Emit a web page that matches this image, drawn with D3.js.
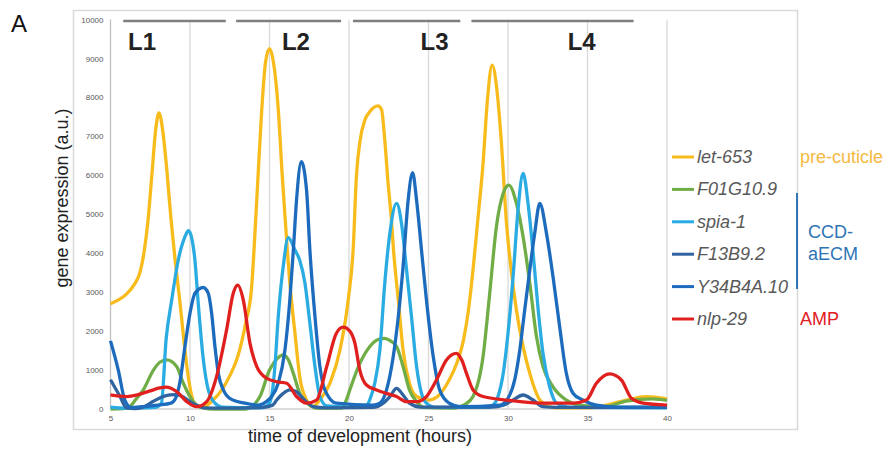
<!DOCTYPE html>
<html>
<head>
<meta charset="utf-8"/>
<script src="https://cdnjs.cloudflare.com/ajax/libs/d3/7.8.5/d3.min.js"></script>
<style>
  body { margin: 0; background: #fff; }
  text { font-family: "Liberation Sans", Arial, sans-serif; }
</style>
</head>
<body>
<script>
const svgW = 888, svgH = 450;

// time (hours), expression (a.u.)
const let653 = [[5,2700],[5.5,2800],[6,2950],[6.5,3200],[6.85,3500],[7.1,4000],[7.35,4800],[7.6,6000],[7.85,7200],[8.05,7600],[8.3,7100],[8.55,6100],[8.8,4900],[9.07,3800],[9.38,2700],[9.58,1900],[9.8,1100],[10.1,350],[10.4,80],[10.8,50],[11.5,250],[12,490],[12.5,850],[13,1340],[13.5,2200],[13.87,3100],[14.19,5300],[14.5,7600],[14.75,8900],[15,9250],[15.25,8900],[15.55,7700],[15.8,6000],[16,4800],[16.28,3230],[16.6,1950],[16.9,830],[17.33,230],[17.7,60],[18.2,250],[18.8,660],[19.43,1510],[19.95,2800],[20.26,4080],[20.47,6000],[20.7,6900],[21,7420],[21.3,7630],[21.83,7780],[22.05,7680],[22.25,6900],[22.46,5790],[22.67,4850],[22.8,4080],[23.1,2800],[23.4,1510],[23.8,660],[24.25,320],[25,230],[25.5,300],[26.3,745],[26.8,1200],[27.2,1770],[27.5,2500],[27.8,3570],[28.1,4850],[28.43,6300],[28.7,7900],[29,8830],[29.3,8200],[29.59,6800],[29.9,4800],[30.2,3570],[30.53,2540],[30.95,1600],[31.37,915],[32,230],[32.5,80],[33,30],[35,30],[36.2,100],[37.45,230],[38.7,320],[40,260]];
const f01g109 = [[5,0],[5.8,10],[6.2,60],[6.6,250],[7.06,490],[7.7,1000],[8.1,1200],[8.53,1260],[9.16,1090],[9.58,660],[10.2,190],[10.83,30],[11.5,0],[13.5,0],[14,100],[14.4,320],[15,1000],[15.5,1300],[15.86,1390],[16.2,1250],[16.5,915],[16.9,400],[17.54,100],[18,20],[19.5,20],[19.8,200],[20.05,490],[20.68,1170],[21.3,1600],[21.8,1780],[22.25,1815],[22.6,1750],[23,1600],[23.4,1090],[23.8,490],[24.25,190],[24.7,40],[26.5,20],[27.3,120],[27.8,320],[28.43,1340],[28.85,2970],[29.27,4680],[29.7,5540],[30.05,5750],[30.53,5280],[30.95,4420],[31.37,3230],[31.79,1860],[32.2,1090],[32.83,570],[33.67,230],[34.5,100],[36,60],[37.45,200],[39.1,260],[40,220]];
const spia1 = [[5,50],[6,20],[7,30],[7.8,40],[8.2,150],[8.5,1800],[8.85,2800],[9.26,3820],[9.68,4420],[9.9,4580],[10.1,4400],[10.31,3820],[10.52,2700],[10.83,1300],[11.15,490],[11.57,150],[12,50],[14.5,30],[14.9,100],[15.13,320],[15.34,1090],[15.55,2370],[15.86,3650],[16.18,4400],[16.6,4080],[16.9,3820],[17.23,3230],[17.54,2200],[17.86,1090],[18.17,320],[18.6,80],[21,40],[21.3,230],[21.62,660],[21.94,1510],[22.25,3230],[22.57,4510],[22.99,5280],[23.3,4770],[23.6,3650],[23.93,2370],[24.25,1090],[24.56,400],[24.87,150],[25.5,40],[28.7,40],[29.06,100],[29.37,320],[29.7,915],[30,1940],[30.32,3400],[30.63,5110],[30.95,6050],[31.26,5280],[31.58,4000],[31.9,2540],[32.2,1430],[32.62,570],[33.05,150],[34,40],[40,30]];
const f13b92 = [[5,750],[5.6,320],[6,30],[6.5,10],[7,40],[7.7,200],[8.2,300],[8.74,360],[9.2,370],[9.6,300],[10.1,160],[10.9,30],[12,20],[14.5,40],[15.2,100],[15.45,230],[15.86,400],[16.28,490],[16.7,445],[17.1,275],[17.75,60],[18.5,30],[21.5,40],[22.15,150],[22.57,320],[22.99,530],[23.4,360],[23.8,150],[24.5,50],[29,50],[29.7,100],[30.32,230],[30.95,360],[31.58,230],[32.2,60],[33,40],[40,40]];
const y34b4a10 = [[5,1750],[5.49,1000],[5.9,230],[6.3,40],[7,60],[8,100],[8.8,150],[9.1,280],[9.37,700],[9.68,1600],[10,2460],[10.31,2970],[10.83,3120],[11.15,2970],[11.36,2460],[11.57,1600],[11.78,915],[12.1,490],[12.5,275],[13.45,150],[14.29,100],[14.92,230],[15.13,320],[15.55,660],[15.97,1510],[16.28,2800],[16.5,4080],[16.7,5360],[17,6350],[17.33,5620],[17.54,4080],[17.86,2370],[18.17,1090],[18.48,490],[19.2,150],[21.5,100],[21.94,150],[22.36,490],[22.78,1340],[23.1,2370],[23.4,3650],[23.72,5360],[24,6070],[24.25,5360],[24.56,4080],[24.87,2800],[25.3,1340],[25.7,490],[26.3,150],[27,60],[29.5,100],[30,275],[30.42,745],[30.74,1510],[31.05,2540],[31.37,3570],[31.68,4510],[32,5280],[32.42,4510],[32.83,3400],[33.25,2110],[33.67,915],[34.1,400],[34.7,230],[35.56,100],[37,50],[40,50]];
const nlp29 = [[5,360],[6,320],[7,400],[7.6,480],[8.1,540],[8.5,560],[9.16,445],[9.79,190],[10.42,60],[11.05,190],[11.67,830],[12.3,2030],[12.72,2970],[13,3180],[13.35,2800],[13.77,1690],[14.2,1090],[14.82,790],[15.45,700],[16.08,660],[16.7,320],[17.33,150],[17.96,230],[18.6,1090],[19.2,1940],[19.63,2100],[20.05,2000],[20.37,1690],[20.68,1000],[21.1,615],[21.73,490],[22.36,400],[22.99,320],[23.6,190],[24.25,190],[24.87,320],[25.5,745],[26.13,1260],[26.76,1430],[27.1,1250],[27.39,915],[27.8,490],[28.43,320],[29.9,230],[32,150],[34.1,150],[34.93,230],[35.56,660],[36.4,900],[37.13,745],[37.76,275],[38.5,150],[40,100]];

const geneNames = ['let-653', 'F01G10.9', 'spia-1', 'F13B9.2', 'Y34B4A.10', 'nlp-29'];
const geneValues = [let653, f01g109, spia1, f13b92, y34b4a10, nlp29];
const geneColors = ['#f7bb1c', '#70ad47', '#2aabe2', '#2f64a0', '#1d6bbd', '#e0201e'];

const xTicks = [5, 10, 15, 20, 25, 30, 35, 40];
const yTicks = [0, 1000, 2000, 3000, 4000, 5000, 6000, 7000, 8000, 9000, 10000];

// larval stages: bar start / end and label position, in hours
const stageNames = ['L1', 'L2', 'L3', 'L4'];
const stageStart = [5.8, 12.9, 20.25, 27.7];
const stageEnd = [12.25, 19.5, 27.0, 37.9];
const stageLabelAt = [6.1, 15.78, 24.5, 33.75];

const svg = d3.select('body').append('svg')
                              .attr('height', svgH)
                              .attr('width', svgW);

const x = d3.scaleLinear().domain([5, 40]).range([110.5, 667]);
const y = d3.scaleLinear().domain([0, 10000]).range([409, 19.5]);

// outer frame
svg.append('rect')
   .attr('x', 73.5).attr('y', 10.5)
   .attr('width', 724).attr('height', 419)
   .attr('fill', 'none').attr('stroke', '#d9d9d9').attr('stroke-width', 1.5);

svg.append('text').attr('x', 11).attr('y', 32)
   .attr('font-size', 24).attr('fill', '#111').text('A');

// vertical grid
svg.selectAll('line.grid').data(xTicks).enter().append('line')
   .attr('class', 'grid')
   .attr('x1', (d) => x(d)).attr('x2', (d) => x(d))
   .attr('y1', y(0)).attr('y2', y(10000))
   .attr('stroke', (d) => d === 5 ? '#bfbfbf' : '#d9d9d9')
   .attr('stroke-width', 1.3);

svg.append('line')
   .attr('x1', x(5)).attr('x2', x(40))
   .attr('y1', y(0)).attr('y2', y(0))
   .attr('stroke', '#d0d0d0').attr('stroke-width', 1.3);

// axes
const yAxis = svg.append('g')
                 .attr('transform', `translate(${x(5)},0)`)
                 .call(d3.axisLeft(y).tickValues(yTicks).tickFormat(d3.format('d'))
                         .tickSize(0).tickPadding(7));
const xAxis = svg.append('g')
                 .attr('transform', `translate(0,${y(0)})`)
                 .call(d3.axisBottom(x).tickValues(xTicks).tickFormat(d3.format('d'))
                         .tickSize(0).tickPadding(6));
[yAxis, xAxis].forEach((g) => {
  g.select('.domain').remove();
  g.selectAll('text')
   .attr('font-family', '"Liberation Sans", Arial, sans-serif')
   .attr('font-size', 8).attr('fill', '#595959');
});

svg.append('text')
   .attr('transform', 'translate(68,198) rotate(-90)')
   .attr('text-anchor', 'middle').attr('font-size', 18).attr('fill', '#222')
   .text('gene expression (a.u.)');
svg.append('text')
   .attr('x', 360).attr('y', 442)
   .attr('text-anchor', 'middle').attr('font-size', 18).attr('fill', '#222')
   .text('time of development (hours)');

// stage bars and labels
svg.selectAll('line.stage').data(stageNames).enter().append('line')
   .attr('class', 'stage')
   .attr('x1', (d, i) => x(stageStart[i])).attr('x2', (d, i) => x(stageEnd[i]))
   .attr('y1', 21).attr('y2', 21)
   .attr('stroke', '#7f7f7f').attr('stroke-width', 2.5);
svg.selectAll('text.stage').data(stageNames).enter().append('text')
   .attr('class', 'stage')
   .attr('x', (d, i) => x(stageLabelAt[i])).attr('y', 50)
   .attr('font-size', 24).attr('font-weight', 'bold').attr('fill', '#222')
   .text((d) => d);

// expression curves
const line = d3.line()
               .x((d) => x(d[0]))
               .y((d) => y(d[1]))
               .curve(d3.curveMonotoneX);
svg.selectAll('path.gene').data(geneValues).enter().append('path')
   .attr('class', 'gene')
   .attr('d', line)
   .attr('fill', 'none')
   .attr('stroke', (d, i) => geneColors[i])
   .attr('stroke-width', 3.3)
   .attr('stroke-linejoin', 'round');

// legend
const rowY = (i) => 157 + i * 32.4;
const legend = svg.selectAll('g.legend').data(geneNames).enter().append('g')
                  .attr('class', 'legend')
                  .attr('transform', (d, i) => `translate(0,${rowY(i)})`);
legend.append('line')
      .attr('x1', 672).attr('x2', 694).attr('y1', 0).attr('y2', 0)
      .attr('stroke', (d, i) => geneColors[i]).attr('stroke-width', 3);
legend.append('text')
      .attr('x', 697).attr('y', 6)
      .attr('font-size', 18).attr('font-style', 'italic').attr('fill', '#595959')
      .text((d) => d);

// groups
svg.append('line')
   .attr('x1', 797).attr('x2', 797).attr('y1', 193).attr('y2', 289)
   .attr('stroke', '#2e75b6').attr('stroke-width', 2);
svg.append('text').attr('x', 800).attr('y', 163)
   .attr('font-size', 18).attr('fill', '#f4b942').text('pre-cuticle');
svg.append('text').attr('x', 808).attr('y', 238)
   .attr('font-size', 18).attr('fill', '#2e75b6').text('CCD-');
svg.append('text').attr('x', 808).attr('y', 260)
   .attr('font-size', 18).attr('fill', '#2e75b6').text('aECM');
svg.append('text').attr('x', 800).attr('y', 325)
   .attr('font-size', 18).attr('fill', '#e0201e').text('AMP');

</script>
</body>
</html>
